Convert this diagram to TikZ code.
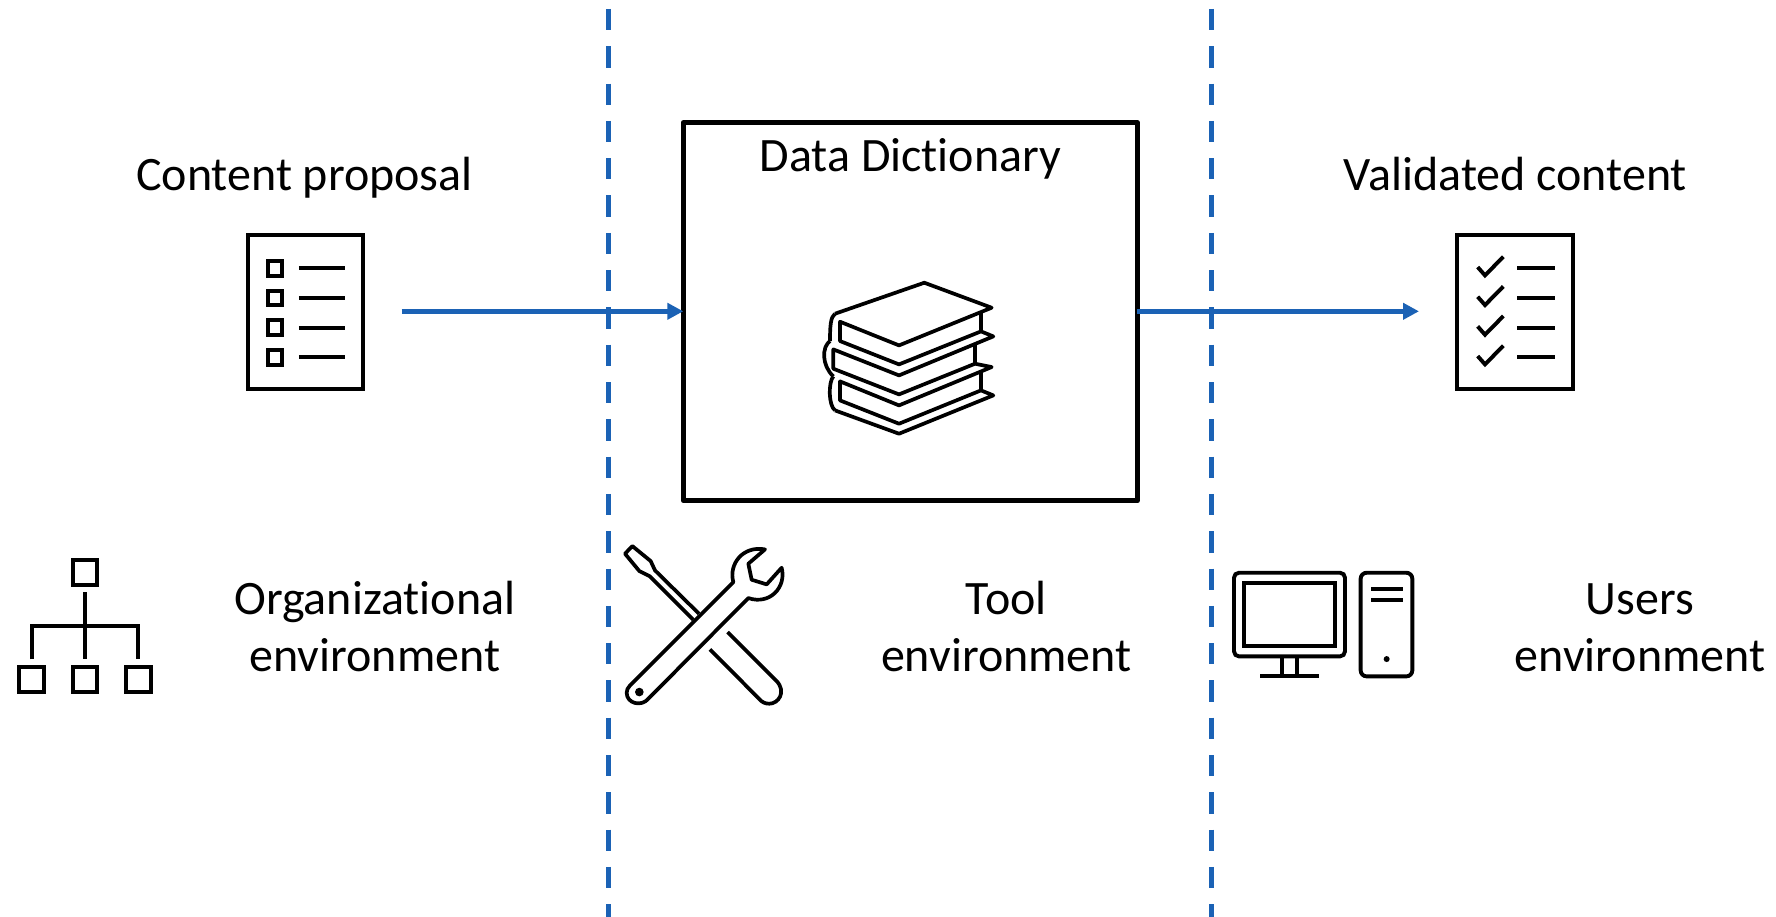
\documentclass[tikz,border=0pt]{standalone}
\usepackage{fontspec}
\setmainfont[Ligatures=NoCommon]{Carlito}
\usetikzlibrary{arrows.meta}
\definecolor{flow}{HTML}{1B62B5}
\tikzset{
  lbl/.style={inner sep=0pt,anchor=base,align=center,font=\fontsize{48}{57}\selectfont},
  flowline/.style={draw=flow,line width=5pt,-{Triangle[length=16pt,width=16pt]},shorten >=0pt},
  divider/.style={draw=flow,line width=5pt,dash pattern=on 21.3pt off 16pt},
  icon/.style={draw=black,line width=3.9pt,line join=miter},
  iconthin/.style={icon,line width=3.7pt,line join=round},
  px3/.style={x=0.3333pt,y=-0.3333pt}
}
\begin{document}
\begin{tikzpicture}[x=1pt,y=-1pt]
\useasboundingbox (0,0) rectangle (1776,917);
\fill[white] (0,0) rectangle (1776,917);
% dividers
\coordinate (d1a) at (608.7,9); \coordinate (d1b) at (608.7,917);
\coordinate (d2a) at (1211.7,9); \coordinate (d2b) at (1211.7,917);
\draw[divider] (d1a) -- (d1b);
\draw[divider] (d2a) -- (d2b);
% central box
\node[draw=black,line width=5.3pt,line join=round,minimum width=454pt,minimum height=378pt,inner sep=0pt,outer sep=0pt] (dd) at (910.3,311.7) {};
\node[lbl] (ddl) at (910.5,172) {Data Dictionary};
% connectors
\coordinate (src) at (401.5,311.3);
\coordinate (dst) at (1419,311.3);
\draw[flowline] (src) -- (dd.west |- src);
\draw[flowline] (dd.east |- dst) -- (dst);
% labels
\node[lbl] (cp) at (304.5,191) {Content proposal};
\node[lbl] (vc) at (1515.5,191) {Validated content};
\node[lbl] (org) at (374.8,671.2) {Organizational\\environment};
\node[lbl] (tool) at (1006.3,671.2) {Tool\\environment};
\node[lbl] (usr) at (1640,671.2) {Users\\environment};
% list icon
\begin{scope}[shift={(230,220.4)},px3]
\draw[icon] (54,43) rectangle (400,507);
\foreach \y in {0,89,178,267}{
  \draw[icon] (113,122+\y) rectangle (157,166+\y);
  \draw[icon] (207,144+\y) -- (345,144+\y);
}
\end{scope}
% checklist icon
\begin{scope}[shift={(1440,220.4)},px3]
\draw[icon] (52,43) rectangle (398,507);
\foreach \y in {0,89,178,267}{
  \draw[icon] (113,140+\y) -- (135,165+\y) -- (190,109+\y);
  \draw[icon] (231,144+\y) -- (345,144+\y);
}
\end{scope}
% books icon
\begin{scope}[shift={(780,250.4)},px3]
\draw[iconthin] (165,190) -- (433,97) -- (635,172) -- (357,285) -- (180,214) -- (180,272) -- (357,342) -- (603,243) -- (640,258) -- (357,375) -- (160,297) -- (160,355) -- (357,432) -- (585,340) -- (635,350) -- (357,465) -- (180,393) -- (180,450) -- (357,520) -- (603,420) -- (640,435) -- (357,550) -- (165,480);
\draw[iconthin] (603,185) -- (603,243);
\draw[iconthin] (585,285) -- (585,340);
\draw[iconthin] (603,365) -- (603,420);
\draw[iconthin] (165,190) .. controls (152,200) and (150,225) .. (150,272);
\draw[iconthin] (150,272) .. controls (125,290) and (125,345) .. (160,378);
\draw[iconthin] (160,378) .. controls (145,395) and (145,465) .. (165,480);
\end{scope}
% tools icon
\begin{scope}[shift={(600,530.4)},px3]
\draw[iconthin] (297,250) -- (165,120) -- (152,92) -- (97,47) -- (75,70) -- (118,122) -- (150,138) -- (280,268);
\draw[iconthin] (383,305) -- (530,452) .. controls (560,485) and (535,520) .. (508,520) .. controls (495,520) and (485,515) .. (477,505) -- (330,357);
\draw[iconthin] (90,465) -- (400,155) .. controls (385,100) and (430,45) .. (495,57) -- (445,100) -- (455,148) -- (500,162) -- (545,112) .. controls (560,170) and (510,225) .. (445,203) -- (145,505) .. controls (125,530) and (80,520) .. (80,487) .. controls (80,480) and (83,472) .. (90,465) -- cycle;
\fill (118,485) circle (13);
\end{scope}
% computer icon
\begin{scope}[shift={(1210,550.4)},px3]
\draw[icon,rounded corners=5pt] (72,67) rectangle (405,318);
\draw[icon] (102,97) rectangle (376,288);
\draw[icon] (215,318) -- (215,376);
\draw[icon] (262,318) -- (262,376);
\draw[icon] (150,376) -- (328,376);
\draw[icon,rounded corners=6pt] (452,67) rectangle (607,378);
\draw[icon] (483,117) -- (579,117);
\draw[icon] (483,150) -- (579,150);
\fill (530,326) circle (9);
\end{scope}
% hierarchy icon
\begin{scope}[shift={(0,540.4)},px3]
\draw[icon] (218,59) rectangle (292,133);
\draw[icon] (58,380) rectangle (132,454);
\draw[icon] (218,380) rectangle (292,454);
\draw[icon] (378,380) rectangle (452,454);
\draw[icon] (255,155) -- (255,357);
\draw[icon] (95,357) -- (95,257) -- (415,257) -- (415,357);
\end{scope}
\end{tikzpicture}
\end{document}
